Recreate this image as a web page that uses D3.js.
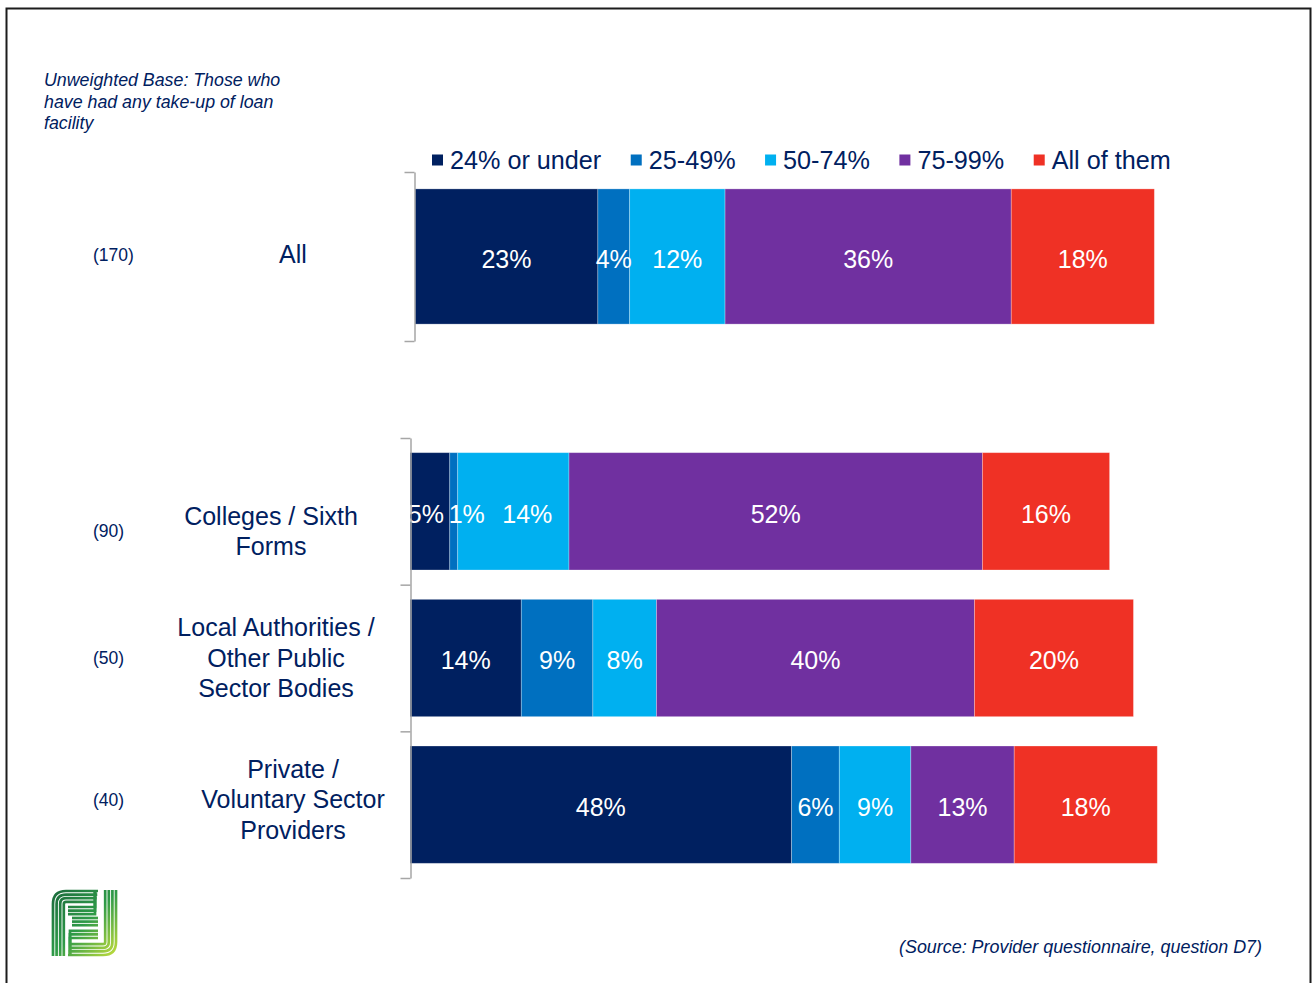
<!DOCTYPE html>
<html>
<head>
<meta charset="utf-8">
<script src="https://cdn.jsdelivr.net/npm/d3@7"></script>
<style>
  html, body { margin: 0; padding: 0; background: #fff; }
  svg { display: block; }
  text { font-family: "Liberation Sans", Arial, sans-serif; }
</style>
</head>
<body>
<svg id="chart" width="1312" height="983"></svg>
<script>
// ---- data ----
const seriesNames = ["24% or under", "25-49%", "50-74%", "75-99%", "All of them"];
const seriesColors = ["#002060", "#0070C0", "#00B0F0", "#7030A0", "#EF3125"];

const categories = ["All", "Colleges / Sixth Forms", "Local Authorities / Other Public Sector Bodies", "Private / Voluntary Sector Providers"];
const categoryLines = [["All"], ["Colleges / Sixth", "Forms"], ["Local Authorities /", "Other Public", "Sector Bodies"], ["Private /", "Voluntary Sector", "Providers"]];
const baseSizes = [170, 90, 50, 40];

const under24 = [23, 5, 14, 48];
const from25to49 = [4, 1, 9, 6];
const from50to74 = [12, 14, 8, 9];
const from75to99 = [36, 52, 40, 13];
const allOfThem = [18, 16, 20, 18];

const baseNote = ["Unweighted Base: Those who", "have had any take-up of loan", "facility"];
const sourceNote = "(Source: Provider questionnaire, question D7)";

// ---- layout ----
const textColor = "#002060";
const axisColor = "#A6A6A6";
const labelCenterX = [293, 271, 276, 293];
const labelShiftY = [-2, 20, 0, -5];
// horizontal nudges for crowded value labels (row index -> per-series dx)
const valueLabelNudge = { 1: [-4, 13, 14, 0, 0] };

const svg = d3.select("#chart");

// outer frame
svg.append("rect")
  .attr("x", 6.5).attr("y", 8.5).attr("width", 1304).attr("height", 1000)
  .attr("fill", "none").attr("stroke", "#1c1c1c").attr("stroke-width", 2);

// rows built from the series arrays
const rows = categories.map((c, i) => ({
  idx: i,
  category: c,
  lines: categoryLines[i],
  base: baseSizes[i],
  labelX: labelCenterX[i],
  labelDy: labelShiftY[i],
  "24% or under": under24[i],
  "25-49%": from25to49[i],
  "50-74%": from50to74[i],
  "75-99%": from75to99[i],
  "All of them": allOfThem[i]
}));

const stack = d3.stack().keys(seriesNames);
const color = d3.scaleOrdinal().domain(seriesNames).range(seriesColors);

function drawPanel(panelRows, xStart, yTop, yBottom, axisX) {
  const g = svg.append("g");
  const x = d3.scaleLinear().domain([0, 100]).range([xStart, xStart + 795]);
  const y = d3.scaleBand()
    .domain(panelRows.map(d => d.category))
    .range([yTop, yBottom])
    .paddingInner(0.2)
    .paddingOuter(0.1);

  const stacked = stack(panelRows);

  const layers = g.selectAll("g.layer")
    .data(stacked)
    .join("g")
    .attr("class", "layer")
    .attr("fill", d => color(d.key));

  layers.selectAll("rect")
    .data(d => d)
    .join("rect")
    .attr("x", d => x(d[0]))
    .attr("y", d => y(d.data.category))
    .attr("width", d => x(d[1]) - x(d[0]))
    .attr("height", y.bandwidth())
    .attr("stroke", "#ffffff")
    .attr("stroke-opacity", 0.35)
    .attr("stroke-width", 0.8);

  // value labels, drawn above every segment
  const labelData = stacked.flatMap(layer =>
    layer.map(s => ({ s, si: seriesNames.indexOf(layer.key) })));
  g.append("g").selectAll("text")
    .data(labelData)
    .join("text")
    .attr("x", d => {
      const nudge = valueLabelNudge[d.s.data.idx];
      return (x(d.s[0]) + x(d.s[1])) / 2 + (nudge ? nudge[d.si] : 0);
    })
    .attr("y", d => y(d.s.data.category) + y.bandwidth() / 2)
    .attr("dy", "0.45em")
    .attr("text-anchor", "middle")
    .attr("fill", "#ffffff")
    .attr("font-size", 25)
    .text(d => (d.s[1] - d.s[0]) + "%");

  // bracket axis: ticks at band boundaries
  const edges = d3.scaleLinear().domain([0, panelRows.length]).range([yTop, yBottom]);
  const axis = d3.axisLeft(edges)
    .tickValues(d3.range(panelRows.length + 1))
    .tickFormat("")
    .tickSizeInner(10)
    .tickSizeOuter(0);
  const ax = g.append("g")
    .attr("transform", `translate(${axisX},0)`)
    .call(axis);
  ax.selectAll("path, line").attr("stroke", axisColor).attr("stroke-width", 1.5);

  // category labels and base sizes
  panelRows.forEach(r => {
    const cy = y(r.category) + y.bandwidth() / 2 + r.labelDy;
    const n = r.lines.length;
    const lh = 30.5;
    const t = g.append("text")
      .attr("text-anchor", "middle")
      .attr("fill", textColor)
      .attr("font-size", 25);
    r.lines.forEach((ln, k) => {
      t.append("tspan")
        .attr("x", r.labelX)
        .attr("y", cy + (k - (n - 1) / 2) * lh)
        .attr("dy", "0.35em")
        .text(ln);
    });
    g.append("text")
      .attr("x", 93)
      .attr("y", cy)
      .attr("dy", "0.35em")
      .attr("fill", textColor)
      .attr("font-size", 17.5)
      .text("(" + r.base + ")");
  });
}

drawPanel(rows.slice(0, 1), 415, 172, 341, 414.5);
drawPanel(rows.slice(1), 410, 438, 878, 410.5);

// legend
const legend = svg.append("g");
let lx = 432;
seriesNames.forEach((name, i) => {
  legend.append("rect")
    .attr("x", lx).attr("y", 154.5).attr("width", 11).attr("height", 11)
    .attr("fill", seriesColors[i]);
  const t = legend.append("text")
    .attr("x", lx + 18).attr("y", 160).attr("dy", "0.35em")
    .attr("fill", textColor).attr("font-size", 25.2)
    .text(name);
  lx = lx + 18 + t.node().getComputedTextLength() + 29.5;
});

// base note
const note = svg.append("text")
  .attr("fill", textColor).attr("font-size", 17.8).attr("font-style", "italic");
baseNote.forEach((ln, k) => {
  note.append("tspan").attr("x", 44).attr("y", 80 + k * 21.5).attr("dy", "0.35em").text(ln);
});

// source note
svg.append("text")
  .attr("x", 1262).attr("y", 947).attr("dy", "0.35em")
  .attr("text-anchor", "end")
  .attr("fill", textColor).attr("font-size", 17.9).attr("font-style", "italic")
  .text(sourceNote);

// logo: nested green stripes
const defs = svg.append("defs");
const grad = defs.append("linearGradient")
  .attr("id", "logoGrad").attr("gradientUnits", "userSpaceOnUse")
  .attr("x1", 52).attr("y1", 890).attr("x2", 117).attr("y2", 956);
grad.append("stop").attr("offset", "0%").attr("stop-color", "#1B6A3C");
grad.append("stop").attr("offset", "50%").attr("stop-color", "#2E9A48");
grad.append("stop").attr("offset", "100%").attr("stop-color", "#C4DE3C");

const logo = svg.append("g")
  .attr("fill", "none").attr("stroke", "url(#logoGrad)").attr("stroke-width", 2.7);
const path = d3.path;
for (let i = 0; i < 4; i++) {
  const o = i * 3.6;
  const r = Math.max(2, 13 - o);
  // left "F" stripes
  const p1 = path();
  const x0 = 53 + o, y0 = 891 + o;
  p1.moveTo(x0, 956);
  p1.lineTo(x0, y0 + r);
  p1.quadraticCurveTo(x0, y0, x0 + r, y0);
  p1.lineTo(98 - o * 0.2, y0);
  logo.append("path").attr("d", p1.toString());
  // right "J" stripes
  const p2 = path();
  const x1 = 116 - o, y1 = 955 - o;
  p2.moveTo(x1, 890);
  p2.lineTo(x1, y1 - r);
  p2.quadraticCurveTo(x1, y1, x1 - r, y1);
  p2.lineTo(68 + o * 0.2, y1);
  logo.append("path").attr("d", p2.toString());
}
// inner bars of the mark
for (let i = 0; i < 3; i++) {
  const yy = 907 + i * 3.6;
  logo.append("path").attr("d", `M${68},${yy}H${95}V${890}`);
  const yb = 938 - i * 3.6;
  logo.append("path").attr("d", `M${98},${yb}H${70}V${956}`);
}
for (let i = 0; i < 3; i++) {
  const yy = 918 + i * 3.6;
  logo.append("path").attr("d", `M${72},${yy}H${98}`);
}
</script>
</body>
</html>
